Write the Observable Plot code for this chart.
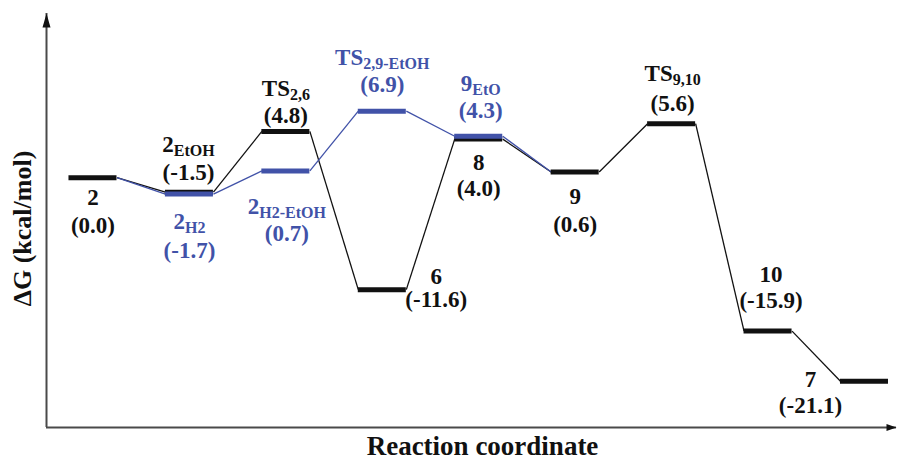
<!DOCTYPE html>
<html><head><meta charset="utf-8">
<script src="https://cdn.jsdelivr.net/npm/d3@7"></script>
<script src="https://cdn.jsdelivr.net/npm/@observablehq/plot@0.6"></script>
<style>body{margin:0;background:#fff}</style>
</head><body><div id="chart"></div>
<script>
// ---- data ----
const names    = ["2", "2_{EtOH}", "2_{H2}", "TS_{2,6}", "2_{H2-EtOH}", "TS_{2,9-EtOH}", "6", "9_{EtO}", "8", "9", "TS_{9,10}", "10", "7"];
const slots    = [0, 1, 1, 2, 2, 3, 3, 4, 4, 5, 6, 7, 8];
const energies = [0.0, -1.5, -1.7, 4.8, 0.7, 6.9, -11.6, 4.3, 4.0, 0.6, 5.6, -15.9, -21.1];
const pathways = ["main", "main", "alt", "main", "alt", "alt", "main", "alt", "main", "main", "main", "main", "main"];
const mainRoute = ["2", "2_{EtOH}", "TS_{2,6}", "6", "8", "9", "TS_{9,10}", "10", "7"];
const altRoute  = ["2", "2_{H2}", "2_{H2-EtOH}", "TS_{2,9-EtOH}", "9_{EtO}", "9"];
const xLabel = "Reaction coordinate";
const yLabel = "ΔG (kcal/mol)";

// ---- layout / style ----
const BLACK = "#111111", BLUE = "#4152a8", AXIS = "#4a4a4a";
const FONT = "Liberation Serif";
const HW = 0.249;                       // half width of a level bar (slot units)
const X0 = -0.482, X1 = 8.332, Y0 = -25.89, Y1 = 17.02;
// label offsets in px: [dx, dy of name baseline, dy of value baseline]
const labelLayout = {
  "2": [0, 27, 55],
  "2_{EtOH}": [-1, -40, -12],
  "2_{H2}": [0, 35, 64],
  "TS_{2,6}": [0, -35, -8],
  "2_{H2-EtOH}": [1, 43, 70],
  "TS_{2,9-EtOH}": [0, -46, -19],
  "6": [54, -6, 17],
  "9_{EtO}": [2, -45, -18],
  "8": [0, 31, 57],
  "9": [0, 32, 60],
  "TS_{9,10}": [1, -43, -13],
  "10": [3, -49, -23],
  "7": [-54, 6, 32]
};

const levels = names.map((n, i) => ({name: n, slot: slots[i], energy: energies[i], path: pathways[i],
  value: "(" + energies[i].toFixed(1) + ")"}));
const byName = new Map(levels.map(d => [d.name, d]));
const links = [];
for (const [route, path] of [[mainRoute, "main"], [altRoute, "alt"]]) {
  for (let i = 0; i < route.length - 1; i++) {
    const a = byName.get(route[i]), b = byName.get(route[i + 1]);
    links.push({x1: a.slot, y1: a.energy, x2: b.slot, y2: b.energy, path});
  }
}

const upHead = {draw(ctx) { ctx.moveTo(0, 0); ctx.lineTo(4, 14); ctx.lineTo(-4, 14); ctx.closePath(); }};
const rightHead = {draw(ctx) { ctx.moveTo(0, 0); ctx.lineTo(-10, 3.5); ctx.lineTo(-10, -3.5); ctx.closePath(); }};

const textBase = {fontFamily: FONT, fontWeight: "bold", textAnchor: "middle", lineAnchor: "bottom"};
const labelMarks = [];
for (const d of levels) {
  const [dx, dyN, dyV] = labelLayout[d.name];
  labelMarks.push(Plot.text([d], {...textBase, x: "slot", y: "energy", text: "name", fill: "path", fontSize: 23, dx, dy: dyN}));
  labelMarks.push(Plot.text([d], {...textBase, x: "slot", y: "energy", text: "value", fill: "path", fontSize: 23, dx, dy: dyV}));
}

const chart = Plot.plot({
  width: 897, height: 459,
  marginTop: 13, marginBottom: 32, marginLeft: 46, marginRight: 1,
  x: {domain: [X0, X1], axis: null},
  y: {domain: [Y0, Y1], axis: null},
  color: {domain: ["main", "alt"], range: [BLACK, BLUE]},
  style: {background: "#fff", fontFamily: FONT},
  marks: [
    Plot.ruleX([X0], {y1: Y0, y2: Y1, stroke: AXIS, strokeWidth: 2}),
    Plot.ruleY([Y0], {x1: X0, x2: X1, stroke: AXIS, strokeWidth: 2}),
    Plot.dot([{x: X0, y: Y1}], {x: "x", y: "y", symbol: upHead, fill: BLACK, stroke: "none"}),
    Plot.dot([{x: X1, y: Y0}], {x: "x", y: "y", symbol: rightHead, fill: BLACK, stroke: "none"}),
    Plot.link(links.filter(d => d.path === "main"), {x1: d => d.x1 + HW, y1: "y1", x2: d => d.x2 - HW, y2: "y2", stroke: "path", strokeWidth: 1.3}),
    Plot.link(links.filter(d => d.path === "alt"), {x1: d => d.x1 + HW, y1: "y1", x2: d => d.x2 - HW, y2: "y2", stroke: "path", strokeWidth: 1.3}),
    Plot.ruleY(levels.filter(d => d.path === "main"), {y: "energy", x1: d => d.slot - HW, x2: d => d.slot + HW, stroke: "path", strokeWidth: 5}),
    Plot.ruleY(levels.filter(d => d.path === "alt"), {y: "energy", x1: d => d.slot - HW, x2: d => d.slot + HW, stroke: "path", strokeWidth: 5}),
    ...labelMarks,
    Plot.text([yLabel], {frameAnchor: "left", textAnchor: "middle", lineAnchor: "middle", dx: -24, dy: 8, rotate: -90, fontSize: 26, fontFamily: FONT, fontWeight: "bold", fill: BLACK}),
    Plot.text([xLabel], {frameAnchor: "bottom", textAnchor: "middle", lineAnchor: "bottom", dx: 11, dy: 27, fontSize: 27, fontFamily: FONT, fontWeight: "bold", fill: BLACK})
  ]
});

// render "X_{sub}" labels with real subscripts
d3.select(chart).selectAll("text").each(function () {
  const m = /^(.*?)_\{(.+)\}$/.exec(this.textContent);
  if (!m) return;
  const t = d3.select(this);
  t.text(null);
  t.append("tspan").text(m[1]);
  t.append("tspan").attr("font-size", 16).attr("dy", 4).text(m[2]);
});

document.getElementById("chart").appendChild(chart);
</script>
</body></html>
